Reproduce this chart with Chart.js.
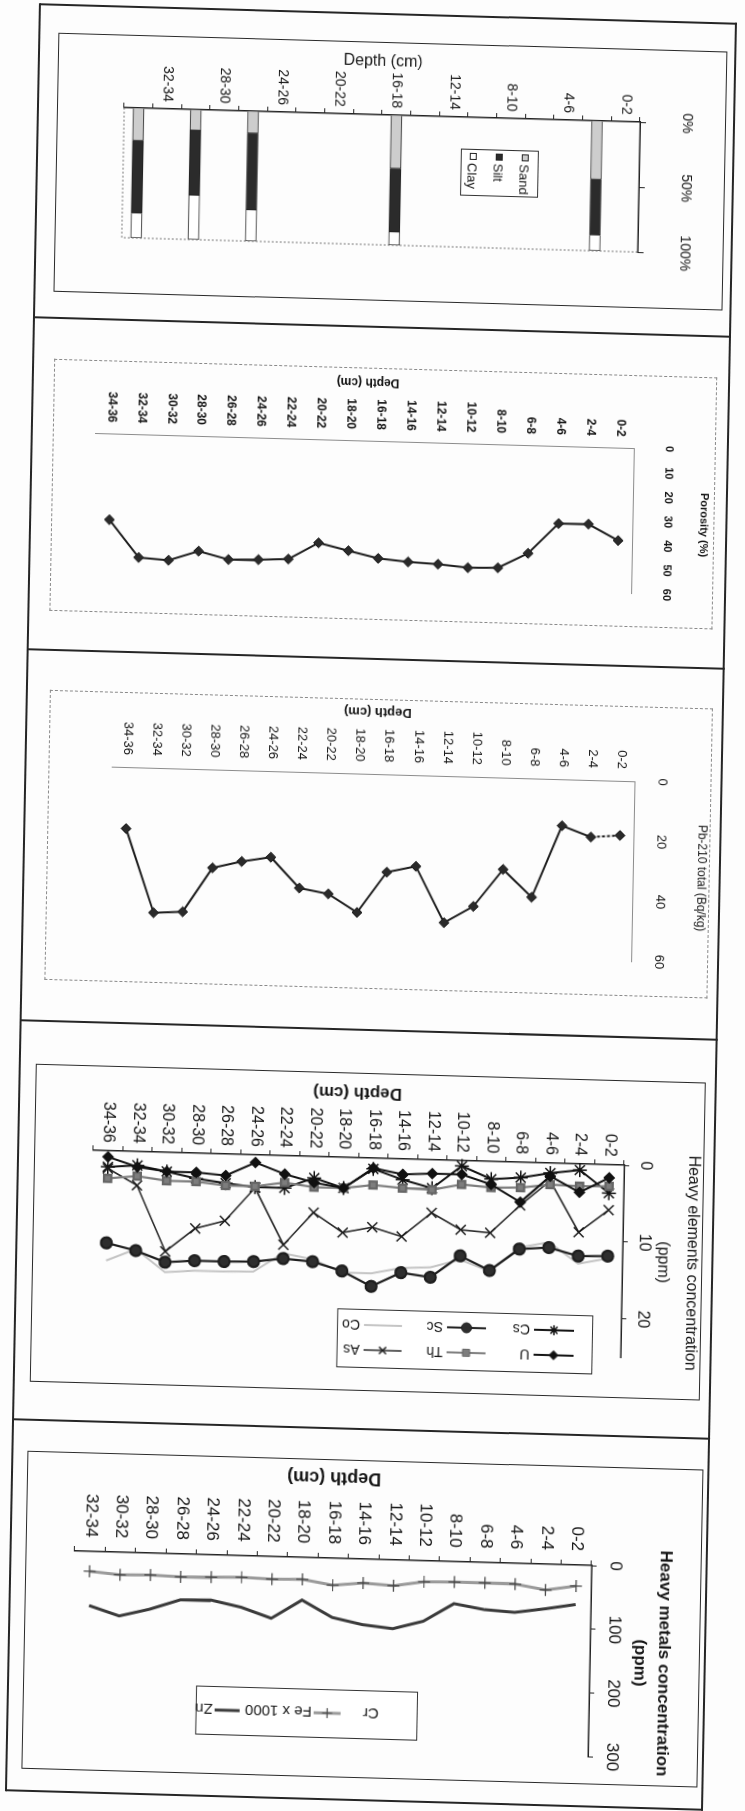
<!DOCTYPE html>
<html>
<head>
<meta charset="utf-8">
<title>Core profiles</title>
<script src="https://cdn.jsdelivr.net/npm/chart.js@4.4.1/dist/chart.umd.min.js"></script>
<style>
  html, body { margin: 0; padding: 0; background: #fff; }
  #page { position: relative; width: 745px; height: 1811px; overflow: hidden; background: #fdfdfd; }
  #sheet { position: absolute; left: 0; top: 0; width: 745px; height: 1811px;
           transform-origin: 372px 905px; transform: matrix(1, 0.028, -0.019, 1, 0, 0);
           font-family: 'Liberation Sans', Arial, sans-serif; color: #151515; }
  .ln { position: absolute; background: #262626; }
  .box { position: absolute; box-sizing: border-box; }
  .rot { position: absolute; transform-origin: 0 0; }
  .lg { position: absolute; box-sizing: border-box; border: 1px solid #333; background: #fff; }
  .lg span { position: absolute; white-space: nowrap; line-height: 1; }
  .lg canvas { position: absolute; }
</style>
</head>
<body>
<div id="page"><div id="sheet"></div></div>
<script>
// ---- data ----
var depthLabels = ['0-2', '2-4', '4-6', '6-8', '8-10', '10-12', '12-14', '14-16', '16-18',
                   '18-20', '20-22', '22-24', '24-26', '26-28', '28-30', '30-32', '32-34', '34-36'];
var metalDepthLabels = depthLabels.slice(0, 17);

// grain size (%), only five samples
var sandPct = [null, 45, null, null, null, null, null, null, 41, null, null, null, null, 17, null, 16, null, 25];
var siltPct = [null, 43, null, null, null, null, null, null, 49, null, null, null, null, 59, null, 50, null, 56];
var clayPct = [null, 12, null, null, null, null, null, null, 10, null, null, null, null, 24, null, 34, null, 19];
var textureTicks = [0, 50, 100];

var porosityPct = [38.2, 31.8, 31.9, 44.5, 50.8, 51.1, 50.0, 49.4, 48.3, 45.5, 42.6, 49.6, 50.2, 50.5, 47.4, 51.5, 50.7, 35.5];
var porosityTicks = [0, 10, 20, 30, 40, 50, 60];

var pb210Total = [18.2, 19.0, 15.5, 39.6, 30.6, 43.2, 48.9, 30.4, 32.6, 46.3, 40.4, 38.7, 28.7, 30.4, 32.8, 47.7, 48.3, 20.5];
var pb210Ticks = [0, 20, 40, 60];

// heavy elements (ppm)
var uPpm  = [1.7, 3.7, 1.7, 5.2, 3.0, 1.8, 1.8, 2.0, 1.3, 4.0, 3.4, 2.4, 1.0, 2.8, 2.5, 2.5, 2.0, 0.8];
var thPpm = [2.8, 2.9, 2.8, 3.3, 3.4, 3.1, 3.9, 3.8, 3.5, 4.0, 4.0, 3.5, 4.1, 4.1, 3.7, 3.7, 3.2, 3.6];
var asPpm = [5.9, 8.9, 2.3, 5.6, 9.3, 9.0, 6.9, 10.1, 9.0, 9.8, 7.3, 11.6, 4.3, 8.7, 9.8, 12.9, 4.4, 2.3];
var csPpm = [3.7, 0.8, 1.3, 2.0, 2.3, 0.7, 3.7, 2.7, 1.4, 4.0, 2.8, 4.2, 4.2, 3.8, 3.3, 2.5, 1.8, 2.1];
var scPpm = [11.9, 12.0, 11.0, 11.3, 14.2, 12.4, 15.3, 14.8, 16.7, 14.8, 13.7, 13.4, 13.9, 14.0, 14.0, 14.3, 12.9, 12.0];
var coPpm = [12.2, 13.0, 10.3, 11.1, 14.3, 12.9, 14.0, 14.2, 15.0, 15.0, 13.4, 12.7, 15.2, 15.3, 15.3, 15.6, 12.7, 14.3];
var elementTicks = [0, 10, 20];

// heavy metals (ppm)
var feX1000 = [33, 40.5, 32.6, 32, 32, 33, 40.5, 37.6, 42.4, 34.5, 35.5, 33.9, 35, 36, 34.4, 35.4, 31.2];
var znPpm   = [62, 70, 77, 74, 66, 95, 108, 103, 93, 67, 97, 81, 71, 72, 88, 100, 85];
var metalTicks = [0, 100, 200, 300];
var metalLegendNames = ['Cr', 'Fe x 1000', 'Zn'];

Chart.defaults.font.family = "'Liberation Sans', Arial, sans-serif";
Chart.defaults.color = '#151515';

var NARROW = "'Liberation Sans Narrow', 'Liberation Sans', Arial, sans-serif";
var sheet = document.getElementById('sheet');

// ---- page furniture (table lines and chart boxes) ----
function line(x, y, w, h) {
  var d = document.createElement('div');
  d.className = 'ln';
  d.style.cssText = 'left:' + x + 'px;top:' + y + 'px;width:' + w + 'px;height:' + h + 'px';
  sheet.appendChild(d);
}
function box(x, y, w, h, border) {
  var d = document.createElement('div');
  d.className = 'box';
  d.style.cssText = 'left:' + x + 'px;top:' + y + 'px;width:' + w + 'px;height:' + h + 'px;border:' + border;
  sheet.appendChild(d);
}
// canvas drawn upright, then turned 90deg clockwise into the final box
function addCanvas(x, y, w, h) {
  var holder = document.createElement('div');
  holder.className = 'rot';
  holder.style.cssText = 'left:' + x + 'px;top:' + y + 'px;width:' + h + 'px;height:' + w + 'px;transform:translate(' + w + 'px,0) rotate(90deg)';
  var cv = document.createElement('canvas');
  cv.width = h; cv.height = w;
  holder.appendChild(cv);
  sheet.appendChild(holder);
  return cv;
}

line(23, 13, 697, 2); line(23, 1799, 697, 2);
line(22, 13, 2, 1788); line(718, 13, 2, 1788);
[326, 658, 1029, 1428].forEach(function(y) { line(23, y, 697, 2); });

box(42, 42, 669, 259, '1.5px solid #2a2a2a');
box(44, 368, 663, 252, '1px dashed #8a8a8a');
box(46, 699, 663, 290, '1px dashed #8a8a8a');
box(39, 1073, 670, 318, '1.5px solid #2a2a2a');
box(38, 1460, 676, 318, '1.5px solid #2a2a2a');

// ---- extra text (rotated titles) and dotted plot edges ----
var panelText = {
  id: 'panelText',
  afterDraw: function(chart, args, opts) {
    var ctx = chart.ctx, a = chart.chartArea;
    (opts.edges || []).forEach(function(e) {
      ctx.save();
      ctx.strokeStyle = '#777'; ctx.lineWidth = 1; ctx.setLineDash([2, 2]);
      ctx.beginPath();
      if (e === 'right') { ctx.moveTo(a.right, a.top); ctx.lineTo(a.right, a.bottom); }
      if (e === 'bottom') { ctx.moveTo(a.left, a.bottom); ctx.lineTo(a.right, a.bottom); }
      ctx.stroke();
      ctx.restore();
    });
    (opts.items || []).forEach(function(t) {
      ctx.save();
      ctx.translate(t.x, t.y);
      ctx.rotate((t.rot || 0) * Math.PI / 180);
      ctx.font = t.font;
      ctx.fillStyle = '#151515';
      ctx.textAlign = 'center';
      ctx.textBaseline = 'middle';
      [].concat(t.text).forEach(function(s, i) { ctx.fillText(s, 0, i * (t.lh || 0)); });
      ctx.restore();
    });
  }
};

function catScale(labels, width, o) {
  var s = {
    type: 'category', position: 'left', labels: labels, offset: true,
    afterFit: function(scale) { scale.width = width; },
    grid: { offset: true, drawOnChartArea: false, drawTicks: !!o.tick, tickLength: o.tick || 0, color: '#222' },
    border: { display: true, color: o.dash ? '#8c8c8c' : '#222', width: o.dash ? 1 : 1.5, dash: o.dash || [] },
    ticks: { autoSkip: false, padding: o.pad, font: o.font, color: '#151515' }
  };
  if (o.cb) s.ticks.callback = o.cb;
  if (o.title) s.title = o.title;
  if (o.stacked) s.stacked = true;
  return s;
}
function valScale(max, tickValues, height, o) {
  var s = {
    type: 'linear', position: 'top', min: 0, max: max,
    afterFit: function(scale) { scale.height = height; },
    afterBuildTicks: function(scale) { scale.ticks = tickValues.map(function(v) { return { value: v }; }); },
    grid: { drawOnChartArea: false, drawTicks: !!o.tick, tickLength: o.tick || 0, color: '#222' },
    border: { display: true, color: o.dash ? '#8c8c8c' : '#222', width: o.dash ? 1 : 1.5, dash: o.dash || [] },
    ticks: { padding: o.pad, font: o.font, color: '#151515', maxRotation: 0, minRotation: 0 }
  };
  if (o.cb) s.ticks.callback = o.cb;
  if (o.stacked) s.stacked = true;
  return s;
}
function baseOptions(pad, texts) {
  return {
    indexAxis: 'y', responsive: false, animation: false, events: [],
    layout: { padding: { left: 0, top: 0, right: pad[0], bottom: pad[1] } },
    plugins: { legend: { display: false }, tooltip: { enabled: false }, panelText: texts }
  };
}
function lineSet(label, data, style) {
  return Object.assign({ label: label, data: data, tension: 0, fill: false, clip: false }, style);
}

// ---- legend boxes (HTML, turned like the scan) ----
function drawMarker(ctx, style, x, y, r, fill, stroke, lw) {
  var d = r * 0.7071;
  ctx.save();
  ctx.fillStyle = fill; ctx.strokeStyle = stroke; ctx.lineWidth = lw;
  ctx.beginPath();
  if (style === 'circle') { ctx.arc(x, y, r, 0, Math.PI * 2); ctx.fill(); }
  else if (style === 'rect') { ctx.rect(x - d, y - d, 2 * d, 2 * d); ctx.fill(); }
  else if (style === 'rectRot') { ctx.moveTo(x, y - r); ctx.lineTo(x + r, y); ctx.lineTo(x, y + r); ctx.lineTo(x - r, y); ctx.closePath(); ctx.fill(); }
  if (style === 'cross' || style === 'star') { ctx.moveTo(x, y - r); ctx.lineTo(x, y + r); ctx.moveTo(x - r, y); ctx.lineTo(x + r, y); }
  if (style === 'crossRot' || style === 'star') { ctx.moveTo(x - d, y - d); ctx.lineTo(x + d, y + d); ctx.moveTo(x + d, y - d); ctx.lineTo(x - d, y + d); }
  ctx.stroke();
  ctx.restore();
}
function drawSymbol(c, ds) {
  var ctx = c.getContext('2d'), y = c.height / 2;
  ctx.strokeStyle = ds.borderColor; ctx.lineWidth = ds.borderWidth;
  ctx.beginPath(); ctx.moveTo(0, y); ctx.lineTo(c.width, y); ctx.stroke();
  if (ds.pointRadius) {
    drawMarker(ctx, ds.pointStyle, c.width / 2, y, Math.min(ds.pointRadius, 5),
      ds.pointBackgroundColor || '#fff', ds.pointBorderColor || ds.borderColor, ds.pointBorderWidth || 1);
  }
}
function addLegend(cx, cy, w, h, rot, size, items) {
  var d = document.createElement('div');
  d.className = 'lg';
  d.style.cssText = 'left:' + (cx - w / 2) + 'px;top:' + (cy - h / 2) + 'px;width:' + w + 'px;height:' + h +
    'px;font-size:' + size + 'px;transform:rotate(' + rot + 'deg)';
  items.forEach(function(it) {
    if (it.swatch) {
      var b = document.createElement('div');
      b.style.cssText = 'position:absolute;left:' + it.sx + 'px;top:' + (it.y - 4) + 'px;width:7px;height:7px;box-sizing:border-box;border:1px solid #222;background:' + it.swatch;
      d.appendChild(b);
    }
    if (it.ds) {
      var c = document.createElement('canvas');
      c.width = it.sw; c.height = 14;
      c.style.left = it.sx + 'px'; c.style.top = (it.y - 7) + 'px';
      drawSymbol(c, it.ds);
      d.appendChild(c);
    }
    var s = document.createElement('span');
    s.textContent = it.text;
    s.style.left = it.tx + 'px'; s.style.top = (it.y - size / 2) + 'px';
    d.appendChild(s);
  });
  sheet.appendChild(d);
}

// ===== panel 1: grain size =====
var textureSets = [
  { label: 'Sand', data: sandPct, backgroundColor: '#cdcdcd' },
  { label: 'Silt', data: siltPct, backgroundColor: '#2b2b2b' },
  { label: 'Clay', data: clayPct, backgroundColor: '#ffffff' }
].map(function(d) { return Object.assign(d, { borderColor: '#222', borderWidth: 1, barThickness: 11 }); });

var opt1 = baseOptions([56, 67], { edges: ['right', 'bottom'] });
opt1.scales = {
  y: catScale(depthLabels, 73, {
    tick: 5, pad: 2, font: { size: 14 }, stacked: true,
    cb: function(v, i) { return i % 2 === 0 ? depthLabels[i] : ''; },
    title: { display: true, text: 'Depth (cm)', font: { size: 16 }, color: '#151515', padding: { top: 10, bottom: 0 } }
  }),
  x: valScale(100, textureTicks, 86, { tick: 6, pad: 32, font: { size: 14 }, stacked: true, cb: function(v) { return v + '%'; } })
};
new Chart(addCanvas(42, 42, 669, 259), { type: 'bar', data: { labels: depthLabels, datasets: textureSets }, options: opt1, plugins: [panelText] });

addLegend(485, 170, 47, 78, 90, 13, textureSets.map(function(d, i) {
  return { swatch: d.backgroundColor, sx: 3, y: 13 + i * 26, text: d.label, tx: 13 };
}));

// ===== panel 2: porosity =====
var diamondStyle = { borderColor: '#1c1c1c', borderWidth: 2, pointStyle: 'rectRot', pointRadius: 5,
                     pointBackgroundColor: '#2a2a2a', pointBorderColor: '#1c1c1c', pointBorderWidth: 1 };
var opt2 = baseOptions([28, 43], { items: [
  { text: 'Depth (cm)', x: 14, y: 349, rot: 90, font: 'bold 12px ' + NARROW },
  { text: 'Porosity (%)', x: 148, y: 11, font: 'bold 11px ' + NARROW }
] });
opt2.scales = {
  y: catScale(depthLabels, 73, { pad: 11, dash: [3, 3], font: { size: 12, weight: 'bold', family: NARROW } }),
  x: valScale(60, porosityTicks, 81, { pad: 27, dash: [3, 3], font: { size: 11, weight: 'bold', family: NARROW } })
};
new Chart(addCanvas(44, 368, 663, 252), {
  type: 'line',
  data: { labels: depthLabels, datasets: [lineSet('Porosity', porosityPct, diamondStyle)] },
  options: opt2, plugins: [panelText]
});

// ===== panel 3: Pb-210 =====
var opt3 = baseOptions([35, 64], { items: [
  { text: 'Depth (cm)', x: 13, y: 335, rot: 90, font: 'bold 13px ' + NARROW },
  { text: 'Pb-210 total (Bq/kg)', x: 170, y: 9, font: '12px ' + NARROW }
] });
opt3.scales = {
  y: catScale(depthLabels, 75, { pad: 12, dash: [3, 3], font: { size: 13, family: NARROW } }),
  x: valScale(60, pb210Ticks, 76, { pad: 19, dash: [3, 3], font: { size: 13, family: NARROW } })
};
new Chart(addCanvas(46, 699, 663, 290), {
  type: 'line',
  data: { labels: depthLabels, datasets: [lineSet('Pb-210 total', pb210Total, Object.assign({}, diamondStyle, {
    segment: { borderDash: function(c) { return c.p0DataIndex === 0 ? [3, 2] : undefined; } }
  }))] },
  options: opt3, plugins: [panelText]
});

// ===== panel 4: heavy elements =====
var elementSets = [
  lineSet('U', uPpm, { borderColor: '#111', borderWidth: 2, pointStyle: 'rectRot', pointRadius: 4.5, pointBackgroundColor: '#111', pointBorderColor: '#111' }),
  lineSet('Th', thPpm, { borderColor: '#7d7d7d', borderWidth: 2.2, pointStyle: 'rect', pointRadius: 5, pointBackgroundColor: '#7d7d7d', pointBorderColor: '#666' }),
  lineSet('As', asPpm, { borderColor: '#2a2a2a', borderWidth: 1.6, pointStyle: 'crossRot', pointRadius: 7, pointBorderColor: '#1a1a1a', pointBorderWidth: 1.5 }),
  lineSet('Cs', csPpm, { borderColor: '#111', borderWidth: 2, pointStyle: 'star', pointRadius: 7, pointBorderColor: '#111', pointBorderWidth: 1.5 }),
  lineSet('Sc', scPpm, { borderColor: '#1e1e1e', borderWidth: 2.2, pointStyle: 'circle', pointRadius: 5.5, pointBackgroundColor: '#2e2e2e', pointBorderColor: '#1e1e1e' }),
  lineSet('Co', coPpm, { borderColor: '#c4c4c4', borderWidth: 2, pointRadius: 0 })
];
var opt4 = baseOptions([41, 59], { items: [
  { text: 'Depth (cm)', x: 20, y: 348, rot: 90, font: 'bold 17px Liberation Sans, Arial, sans-serif' },
  { text: ['Heavy elements concentration', '(ppm)'], lh: 29, x: 181, y: 11, font: '16px Liberation Sans, Arial, sans-serif' }
] });
opt4.scales = {
  y: catScale(depthLabels, 85, { tick: 5, pad: 3, font: { size: 16 } }),
  x: valScale(25, elementTicks, 80, { tick: 5, pad: 7, font: { size: 16 } })
};
new Chart(addCanvas(39, 1073, 670, 318), {
  type: 'line', data: { labels: depthLabels, datasets: elementSets }, options: opt4, plugins: [panelText]
});

var legendCols = [[18, 62], [106, 149], [190, 232]];
addLegend(473, 1338, 256, 59, 180, 14, elementSets.map(function(d, i) {
  var col = legendCols[i % 3];
  return { ds: d, sx: col[0], sw: col[1] - col[0] - 4, y: i < 3 ? 17 : 42, text: d.label, tx: col[1] };
}));

// ===== panel 5: heavy metals =====
var metalSets = [
  lineSet('Fe x 1000', feX1000, { borderColor: '#9a9a9a', borderWidth: 3, pointStyle: 'cross', pointRadius: 6, pointBorderColor: '#444', pointBorderWidth: 1.2 }),
  lineSet('Zn', znPpm, { borderColor: '#3a3a3a', borderWidth: 3, pointRadius: 0 })
];
var opt5 = baseOptions([28, 49], { items: [
  { text: 'Depth (cm)', x: 18, y: 369, rot: 90, font: 'bold 18px Liberation Sans, Arial, sans-serif' },
  { text: ['Heavy metals concentration', '(ppm)'], lh: 24, x: 195, y: 36, font: 'bold 17px Liberation Sans, Arial, sans-serif' }
] });
opt5.scales = {
  y: catScale(metalDepthLabels, 99, { tick: 5, pad: 9, font: { size: 17 } }),
  x: valScale(300, metalTicks, 110, { tick: 5, pad: 8, font: { size: 17 } })
};
new Chart(addCanvas(38, 1460, 676, 318), {
  type: 'line', data: { labels: metalDepthLabels, datasets: metalSets }, options: opt5, plugins: [panelText]
});

addLegend(322, 1714, 222, 49, 180, 15, [
  { text: metalLegendNames[0], tx: 38, y: 24 },
  { ds: metalSets[0], sx: 76, sw: 27, text: metalLegendNames[1], tx: 105, y: 24 },
  { ds: metalSets[1], sx: 177, sw: 25, text: metalLegendNames[2], tx: 204, y: 24 }
]);
</script>
</body>
</html>
